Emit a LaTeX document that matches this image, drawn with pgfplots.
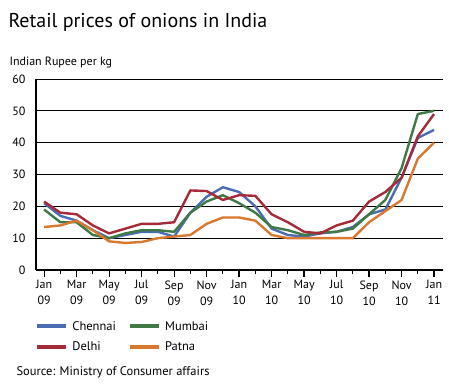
\documentclass[border=0pt]{standalone}
\usepackage{pgfplots}
\pgfplotsset{compat=1.18}
\usepackage{fontspec}
\setmainfont{PT Sans}
\definecolor{cchen}{HTML}{4A6CB3}
\definecolor{cdel}{HTML}{A52A3A}
\definecolor{cmum}{HTML}{3F7A45}
\definecolor{cpat}{HTML}{D9782F}
\begin{document}
\begin{tikzpicture}[x=1pt,y=1pt]
\path[use as bounding box] (0,0) rectangle (449,391);
\node[anchor=west,font=\fontsize{20}{22}\selectfont] at (5,369) {Retail prices of onions in India};
\node[anchor=west,font=\fontsize{12}{13}\selectfont] at (6,328) {Indian Rupee per kg};
\node[anchor=west,font=\fontsize{12.5}{13}\selectfont] at (13,19) {Source: Ministry of Consumer affairs};
\begin{axis}[
  at={(36pt,121pt)}, anchor=south west,
  scale only axis, width=407pt, height=191pt,
  xmin=-0.5, xmax=24.55, ymin=0, ymax=60,
  axis x line*=bottom, axis y line*=left,
  axis line style={line width=1.6pt, -},
  ytick={0,10,...,60},
  ymajorgrids, grid style={black, line width=0.8pt},
  xtick={0,2,...,24},
  minor xtick={1,3,...,23},
  xticklabels={{Jan\\09},{Mar\\09},{May\\09},{Jul\\09},{Sep\\09},{Nov\\09},{Jan\\10},{Mar\\10},{May\\10},{Jul\\10},{Sep\\10},{Nov\\10},{Jan\\11}},
  xticklabel style={align=center, font=\fontsize{12}{16}\selectfont},
  yticklabel style={font=\fontsize{12}{13}\selectfont},
  /pgf/number format/assume math mode=true,
  tick align=outside,
  major tick length=7pt, minor tick length=4pt,
  ytick style={draw=none},
  xtick style={black, line width=1.2pt},
  minor tick style={black, line width=1.2pt},
  xticklabel shift=0pt,
  legend columns=2,
  legend cell align=left,
  legend style={at={(0,0)}, anchor=north west, xshift=-4pt, yshift=-47pt, draw=none, font=\fontsize{12.5}{14}\selectfont, /tikz/every even column/.append style={column sep=10pt}, row sep=6pt},
  legend image code/.code={\draw[line width=4pt] (0pt,0pt) -- (29pt,0pt); \path (32pt,0pt);},
  every axis plot/.append style={line width=2.4pt, line join=round},
]
\addplot[cchen] coordinates {(0,21) (1,17) (2,15.5) (3,12.5) (4,10) (5,11) (6,12) (7,12) (8,10.5) (9,18) (10,23) (11,26) (12,24.5) (13,20) (14,13) (15,11) (16,10.5) (17,11.5) (18,12) (19,13.5) (20,17.5) (21,19) (22,29) (23,41.5) (24,44)};
\addlegendentry{Chennai}
\addplot[cmum] coordinates {(0,19) (1,15) (2,15) (3,11) (4,10) (5,11.5) (6,12.5) (7,12.5) (8,12) (9,18) (10,21.5) (11,23.5) (12,21) (13,18) (14,13.5) (15,12.5) (16,11) (17,11.8) (18,12) (19,13) (20,17.5) (21,22) (22,32) (23,49) (24,50)};
\addlegendentry{Mumbai}
\addplot[cdel] coordinates {(0,21.5) (1,18) (2,17.5) (3,14) (4,11.5) (5,13) (6,14.5) (7,14.5) (8,15) (9,25) (10,24.8) (11,22) (12,23.5) (13,23.3) (14,17.5) (15,15) (16,12) (17,11.5) (18,14) (19,15.5) (20,21.5) (21,24.5) (22,29) (23,42) (24,49)};
\addlegendentry{Delhi}
\addplot[cpat] coordinates {(0,13.5) (1,14) (2,15.5) (3,12.5) (4,9) (5,8.5) (6,8.8) (7,10) (8,10.5) (9,11) (10,14.5) (11,16.5) (12,16.5) (13,15.5) (14,11) (15,10) (16,10) (17,10) (18,10) (19,10) (20,15) (21,18.5) (22,22) (23,35) (24,40)};
\addlegendentry{Patna}
\end{axis}
\end{tikzpicture}
\end{document}
